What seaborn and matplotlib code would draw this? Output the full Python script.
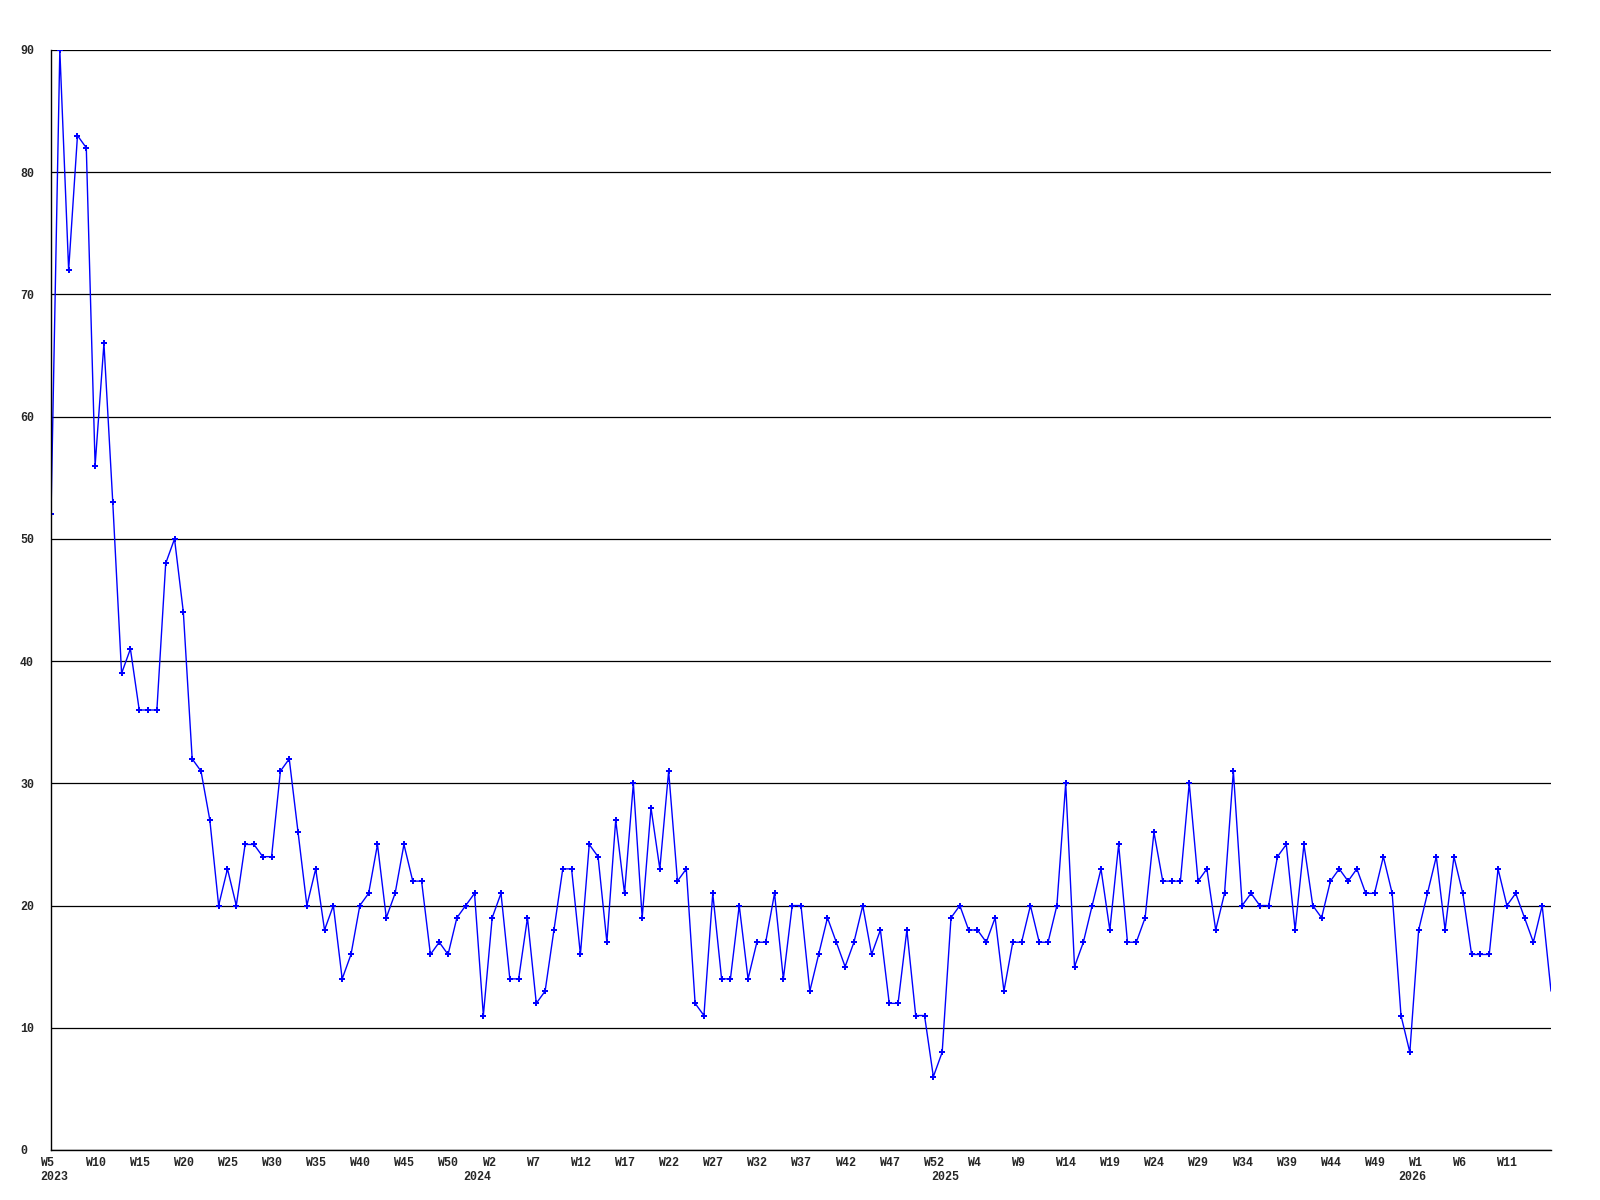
import matplotlib
matplotlib.use("Agg")
import matplotlib.pyplot as plt
import matplotlib.transforms as mtransforms
import pandas as pd
import seaborn as sns

# Startpunkt der Reihe: 2023, Woche 5 (Jahre mit 53 Wochen-Nummern wie im Original)
start_jahr = 2023
start_woche = 5
wochen_pro_jahr = 53

# Wochenwerte
werte = [
    52, 90, 72, 83, 82, 56, 66, 53, 39, 41, 36, 36, 36, 48, 50, 44, 32, 31, 27, 20, 23, 20,
    25, 25, 24, 24, 31, 32, 26, 20, 23, 18, 20, 14, 16, 20, 21, 25, 19, 21, 25, 22, 22,
    16, 17, 16, 19, 20, 21, 11, 19, 21, 14, 14, 19, 12, 13, 18, 23, 23, 16, 25, 24,
    17, 27, 21, 30, 19, 28, 23, 31, 22, 23, 12, 11, 21, 14, 14, 20, 14, 17, 17, 21,
    14, 20, 20, 13, 16, 19, 17, 15, 17, 20, 16, 18, 12, 12, 18, 11, 11, 6, 8, 19, 20,
    18, 18, 17, 19, 13, 17, 17, 20, 17, 17, 20, 30, 15, 17, 20, 23, 18, 25, 17, 17,
    19, 26, 22, 22, 22, 30, 22, 23, 18, 21, 31, 20, 21, 20, 20, 24, 25, 18, 25, 20, 19,
    22, 23, 22, 23, 21, 21, 24, 21, 11, 8, 18, 21, 24, 18, 24, 21, 16, 16, 16, 23, 20, 21, 19, 17, 20, 13,
]

y_ticks = [0, 10, 20, 30, 40, 50, 60, 70, 80, 90]

# Woche / Jahr je Punkt
wochen = []
jahre = []
w, j = start_woche, start_jahr
for _ in werte:
    wochen.append(w)
    jahre.append(j)
    w += 1
    if w > wochen_pro_jahr:
        w = 1
        j += 1

df = pd.DataFrame({"idx": range(len(werte)), "anzahl": werte, "woche": wochen, "jahr": jahre})

sns.set_style("white")
plt.rcParams["font.family"] = ["Liberation Mono", "DejaVu Sans Mono"]
plt.rcParams["font.weight"] = "bold"
fs = 8.4

fig = plt.figure(figsize=(16, 12), dpi=100)
ax = fig.add_axes([51 / 1600, 50 / 1200, 1500 / 1600, 1100 / 1200])

# letzter Punkt liegt am Rand, ohne Marker
g = sns.lineplot(data=df, x="idx", y="anzahl", ax=ax, color="#0000ff", linewidth=1,
                 marker="P", markersize=4, markeredgewidth=0,
                 markevery=list(range(len(werte) - 1)))

g.set_xlim(0, len(werte) - 1)
g.set_ylim(0, 90)
g.set_xlabel("")
g.set_ylabel("")

# Gitter
g.set_yticks(y_ticks)
g.yaxis.grid(True, color="black", linewidth=0.9)
g.xaxis.grid(False)
for s in ["top", "right"]:
    g.spines[s].set_visible(False)
for s in ["left", "bottom"]:
    g.spines[s].set_color("black")
    g.spines[s].set_linewidth(1)

# y-Beschriftung
g.tick_params(axis="y", length=0, pad=22.3, labelsize=fs)
g.set_yticklabels([str(v) for v in y_ticks], fontweight="bold")
for lab in g.get_yticklabels():
    lab.set_horizontalalignment("left")

# x-Beschriftung: jede 5. Woche (nicht am rechten Rand)
tick_df = df.iloc[:-1].iloc[::5]
g.set_xticks(tick_df["idx"])
g.set_xticklabels(["W" + str(x) for x in tick_df["woche"]], fontweight="bold")
g.tick_params(axis="x", length=0, pad=5, labelsize=fs)
verschiebung = mtransforms.ScaledTranslation(-10.5 / 100, 0, fig.dpi_scale_trans)
for lab in g.get_xticklabels():
    lab.set_horizontalalignment("left")
    lab.set_transform(lab.get_transform() + verschiebung)

# Jahres-Beschriftung
trans = mtransforms.blended_transform_factory(g.transData, g.transAxes)
for jahr in sorted(df["jahr"].unique()):
    teil = df[df["jahr"] == jahr]
    erste = teil[teil["woche"] == 1]
    if len(erste) == 0:
        pos = teil["idx"].iloc[0]
        t = g.text(pos, -0.0241, str(jahr), transform=trans, ha="left", va="center",
                   fontsize=fs, fontweight="bold")
        t.set_transform(trans + verschiebung)
    else:
        pos = erste["idx"].iloc[0]
        t = g.text(pos, -0.0241, str(jahr), transform=trans, ha="center", va="center",
                   fontsize=fs, fontweight="bold")
        t.set_transform(trans + mtransforms.ScaledTranslation(-6 / 100, 0, fig.dpi_scale_trans))

plt.savefig("out.png", dpi=100)
